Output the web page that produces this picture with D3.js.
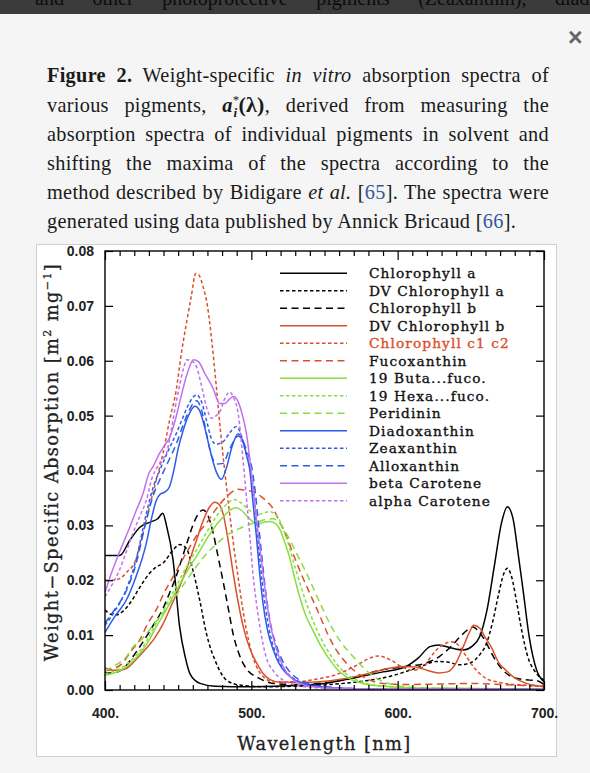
<!DOCTYPE html>
<html>
<head>
<meta charset="utf-8">
<script src="https://cdn.jsdelivr.net/npm/d3@7"></script>
<style>
html, body { margin: 0; padding: 0; }
body { width: 590px; height: 773px; background: #f5f5f5; position: relative; overflow: hidden; font-family: "Liberation Serif", serif; }
#topbar { position: absolute; left: 0; top: 0; width: 590px; height: 14px; background: #3b3b3b; overflow: hidden; }
#topbar div { position: absolute; left: 35px; top: -12px; width: 640px; font-size: 20px; line-height: 20px; color: #0c0c0c; text-align: justify; text-align-last: justify; }
#close { position: absolute; left: 568px; top: 25px; font: bold 25px/25px "Liberation Sans", sans-serif; color: #666; }
#caption { position: absolute; left: 47px; top: 61px; width: 502px; font-size: 20.3px; letter-spacing: 0.3px; line-height: 29.3px; color: #1a1a1a; }
#caption .l { text-align: justify; text-align-last: justify; height: 29.3px; white-space: normal; }
#caption .l.last { text-align-last: left; }
#caption a { color: #36589a; text-decoration: none; }
#chart { position: absolute; left: 0; top: 0; }
</style>
</head>
<body>
<div id="topbar"><div>and other photoprotective pigments (Zeaxanthin), diadinoxanthin</div></div>
<div id="close">×</div>
<div id="caption">
  <div class="l"><b>Figure 2.</b> Weight-specific <i>in vitro</i> absorption spectra of</div>
  <div class="l">various pigments, <b><i>a</i></b><span style="position:relative;top:-8px;font-size:13px;">*</span><span style="position:relative;top:5px;left:-6px;font-size:13px;margin-right:-5px;"><b><i>i</i></b></span><b style="font-size:22px;">(λ)</b>, derived from measuring the</div>
  <div class="l">absorption spectra of individual pigments in solvent and</div>
  <div class="l">shifting the maxima of the spectra according to the</div>
  <div class="l">method described by Bidigare <i>et al.</i> [<a>65</a>]. The spectra were</div>
  <div class="l last">generated using data published by Annick Bricaud [<a>66</a>].</div>
</div>
<div id="chart"></div>
<script>
// weight-specific absorption a*(lambda), [nm, m2 mg-1]
const chlA = [[400,0.0245],[410,0.0245],[417,0.0273],[424,0.0297],[431,0.0306],[436,0.0312],[439.5,0.0322],[442,0.0300],[446.5,0.0237],[451,0.0115],[455,0.0058],[458,0.0030],[465,0.0012],[475,0.0007],[500,0.0006],[530,0.0008],[550,0.0012],[570,0.0022],[590,0.0033],[605,0.0042],[614,0.0058],[622,0.0079],[628,0.0082],[636,0.0077],[645,0.0073],[651,0.0080],[656,0.0097],[661,0.0145],[666,0.0225],[671,0.0305],[675,0.0334],[679,0.0310],[682,0.0255],[685.7,0.0182],[690,0.0095],[695,0.0036],[700,0.0015]];
const dvChlA = [[400,0.0146],[404,0.0138],[408,0.0137],[412,0.0143],[417,0.0158],[424,0.0188],[430.5,0.0213],[435,0.0224],[439.6,0.0231],[446.5,0.0255],[451,0.0265],[455.6,0.0258],[460,0.0219],[464.7,0.0164],[469.3,0.0103],[476,0.0049],[483,0.0018],[492,0.0009],[510,0.0006],[540,0.0008],[570,0.0014],[595,0.0025],[615,0.0042],[626.5,0.0052],[634,0.0051],[642.4,0.0046],[650,0.0050],[656,0.0064],[660.7,0.0085],[665,0.0125],[669,0.0175],[672.5,0.0212],[675,0.0222],[678,0.0205],[681,0.0165],[685,0.0105],[689,0.0060],[694,0.0033],[700,0.0018]];
const chlB = [[400,0.0032],[405,0.0031],[412,0.0038],[421,0.0068],[427,0.0092],[433,0.0118],[439,0.0145],[444,0.0176],[449,0.0210],[453,0.0243],[456.5,0.0272],[460,0.0300],[464,0.0322],[467,0.0328],[470,0.0320],[474,0.0285],[477.5,0.0240],[481,0.0194],[484.5,0.0145],[487.5,0.0103],[491,0.0070],[494.3,0.0049],[498,0.0034],[503.5,0.0024],[515,0.0012],[530,0.0010],[550,0.0013],[570,0.0022],[588,0.0036],[606,0.0043],[618,0.0048],[628.5,0.0061],[636,0.0078],[643,0.0098],[648,0.0110],[651.5,0.0115],[655,0.0108],[660.7,0.0085],[666,0.0058],[672,0.0036],[678,0.0024],[684,0.0020],[690,0.0018],[695,0.0017],[700,0.0010]];
const dvChlB = [[400,0.0040],[405,0.0036],[410,0.0036],[416.7,0.0043],[422,0.0058],[428,0.0075],[434,0.0095],[439.6,0.0120],[445,0.0152],[451,0.0188],[457,0.0230],[462.5,0.0273],[467,0.0308],[471.6,0.0334],[475,0.0342],[478,0.0338],[480.8,0.0320],[484,0.0275],[487.6,0.0213],[491,0.0160],[494.5,0.0115],[499,0.0075],[503.7,0.0049],[508,0.0030],[512.8,0.0019],[520,0.0014],[540,0.0014],[560,0.0019],[580,0.0030],[595,0.0040],[604,0.0043],[612,0.0042],[620,0.0036],[628,0.0031],[634,0.0033],[640,0.0050],[645,0.0080],[649,0.0105],[652,0.0118],[656,0.0113],[660,0.0095],[664,0.0078],[669,0.0050],[674,0.0036],[680,0.0022],[688,0.0012],[700,0.0006]];
const chlC = [[400,0.0200],[405,0.0200],[410,0.0203],[415,0.0215],[421,0.0237],[425.5,0.0280],[430.4,0.0334],[435,0.0382],[439.6,0.0431],[444,0.0490],[448.7,0.0547],[452,0.0610],[455.6,0.0668],[459,0.0718],[462,0.0759],[464,0.0757],[467,0.0735],[470,0.0700],[473,0.0635],[476,0.0555],[479,0.0470],[482,0.0395],[485,0.0325],[488,0.0262],[491,0.0205],[494,0.0150],[497,0.0105],[500,0.0070],[504,0.0040],[509,0.0022],[515,0.0015],[530,0.0015],[545,0.0020],[560,0.0030],[572,0.0045],[580,0.0057],[587,0.0062],[595,0.0055],[603,0.0042],[610,0.0036],[617.4,0.0042],[622,0.0058],[626.5,0.0073],[632,0.0084],[636.8,0.0088],[641,0.0083],[647,0.0061],[651,0.0045],[656,0.0030],[661,0.0020],[667.5,0.0015],[676,0.0011],[686,0.0009],[700,0.0006]];
const fuco = [[400,0.0035],[405,0.0038],[412,0.0049],[417,0.0068],[423.7,0.0091],[429,0.0120],[435,0.0146],[440,0.0175],[446.5,0.0206],[452,0.0233],[458,0.0261],[463,0.0283],[469.3,0.0304],[476,0.0330],[483,0.0352],[491,0.0366],[496,0.0364],[501.4,0.0361],[507,0.0352],[512,0.0340],[515,0.0330],[519,0.0308],[524,0.0280],[529,0.0245],[535,0.0206],[541,0.0170],[547,0.0134],[552,0.0103],[558,0.0073],[564,0.0052],[570,0.0036],[575,0.0026],[581,0.0018],[590,0.0012],[605,0.0010],[630,0.0011],[650,0.0012],[670,0.0010],[700,0.0007]];
const buta = [[400,0.0027],[405,0.0030],[410,0.0035],[415,0.0043],[420,0.0055],[424,0.0067],[430,0.0090],[435,0.0115],[441,0.0142],[446.5,0.0170],[452,0.0197],[458,0.0225],[464,0.0250],[469,0.0273],[475,0.0297],[481,0.0316],[485,0.0327],[489,0.0332],[493,0.0328],[497,0.0317],[501,0.0307],[505,0.0303],[509,0.0306],[513,0.0307],[517,0.0302],[520,0.0290],[523,0.0268],[526,0.0243],[529.5,0.0205],[533,0.0170],[537,0.0137],[542,0.0109],[548,0.0078],[553.6,0.0055],[559,0.0037],[565,0.0024],[570,0.0017],[576,0.0012],[585,0.0008],[600,0.0005],[630,0.0003],[700,0.0002]];
const hexa = [[400,0.0030],[405,0.0033],[410,0.0039],[415,0.0047],[420,0.0060],[425,0.0075],[430,0.0097],[435,0.0122],[441,0.0150],[446.5,0.0178],[452,0.0206],[458,0.0235],[464,0.0262],[469,0.0285],[475,0.0312],[481,0.0333],[485,0.0343],[488,0.0347],[492,0.0343],[496,0.0334],[500,0.0325],[504,0.0320],[508,0.0322],[512,0.0325],[516,0.0321],[519,0.0311],[522,0.0292],[525.5,0.0265],[529,0.0232],[533,0.0197],[537,0.0163],[542,0.0127],[548,0.0092],[554,0.0064],[560,0.0042],[566,0.0027],[573,0.0017],[582,0.0010],[595,0.0006],[620,0.0003],[700,0.0002]];
const perid = [[400,0.0035],[405,0.0042],[410,0.0050],[415,0.0062],[419,0.0078],[425,0.0092],[430,0.0108],[435,0.0125],[440,0.0142],[445,0.0160],[450,0.0178],[455,0.0197],[460,0.0216],[465,0.0234],[470,0.0250],[475,0.0263],[480,0.0275],[485,0.0285],[490,0.0292],[495,0.0298],[500,0.0303],[505,0.0307],[510,0.0311],[515,0.0312],[519,0.0305],[523,0.0290],[527,0.0270],[532,0.0243],[537.7,0.0213],[545,0.0170],[553.6,0.0121],[561,0.0088],[569.6,0.0061],[575,0.0045],[581,0.0030],[588,0.0018],[595,0.0011],[605,0.0006],[630,0.0003],[700,0.0002]];
const diadino = [[400,0.0105],[407,0.0135],[414.6,0.0164],[421,0.0205],[428,0.0265],[432,0.0315],[435,0.0345],[437.4,0.0356],[441,0.0361],[444,0.0370],[447,0.0400],[450,0.0440],[453.4,0.0473],[457,0.0500],[461.5,0.0517],[464.5,0.0510],[468,0.0480],[472,0.0435],[476,0.0398],[479.6,0.0384],[483,0.0405],[487,0.0445],[491,0.0467],[494,0.0455],[497,0.0425],[499,0.0400],[501,0.0345],[503.5,0.0279],[506,0.0205],[508,0.0158],[511,0.0110],[515,0.0073],[519,0.0048],[524,0.0030],[530,0.0018],[537,0.0010],[550,0.0005],[580,0.0002],[700,0.0001]];
const zea = [[400,0.0118],[407,0.0145],[414,0.0180],[421,0.0235],[428.3,0.0322],[433,0.0370],[437.4,0.0400],[443,0.0435],[448.8,0.0468],[453,0.0495],[458,0.0525],[462.5,0.0538],[466,0.0525],[469.5,0.0490],[472.7,0.0458],[476,0.0448],[480.6,0.0452],[485,0.0468],[489.8,0.0480],[493,0.0465],[496,0.0435],[499,0.0405],[501,0.0375],[503,0.0320],[505,0.0260],[507.5,0.0195],[510,0.0145],[513,0.0100],[517,0.0065],[521,0.0043],[526,0.0027],[532,0.0016],[540,0.0009],[555,0.0004],[580,0.0002],[700,0.0001]];
const allo = [[400,0.0122],[407,0.0148],[414,0.0178],[421,0.0228],[428.3,0.0310],[433,0.0355],[437.4,0.0383],[443,0.0415],[448.8,0.0449],[453,0.0480],[458,0.0512],[462.5,0.0527],[466,0.0510],[469.5,0.0465],[472.7,0.0428],[476.5,0.0412],[480.6,0.0413],[485,0.0438],[491,0.0463],[494,0.0455],[497,0.0435],[500,0.0410],[502.5,0.0365],[505,0.0300],[507.5,0.0235],[510,0.0175],[513,0.0122],[517,0.0082],[521,0.0055],[526,0.0034],[532,0.0020],[540,0.0011],[555,0.0005],[580,0.0002],[700,0.0001]];
const betaCar = [[400,0.0178],[404,0.0210],[407.8,0.0237],[412,0.0265],[417,0.0297],[421,0.0325],[426,0.0358],[430,0.0395],[432.8,0.0407],[437,0.0430],[441,0.0447],[444.2,0.0460],[448,0.0492],[452,0.0535],[456,0.0575],[460.5,0.0602],[464,0.0598],[468,0.0578],[473.8,0.0550],[478.4,0.0522],[482,0.0522],[485,0.0530],[488,0.0535],[491,0.0525],[493.5,0.0505],[496.6,0.0468],[499,0.0420],[501.5,0.0360],[504,0.0300],[506.5,0.0245],[509,0.0190],[512,0.0135],[515,0.0095],[519,0.0060],[524,0.0032],[530,0.0016],[538,0.0008],[550,0.0004],[580,0.0002],[700,0.0001]];
const alphaCar = [[400,0.0170],[405,0.0193],[410,0.0219],[414,0.0248],[419,0.0285],[424,0.0318],[428.3,0.0346],[432,0.0385],[435,0.0403],[439.6,0.0422],[442,0.0431],[445,0.0470],[448,0.0515],[451,0.0555],[453.5,0.0585],[456,0.0602],[459,0.0600],[462.5,0.0589],[465.5,0.0560],[469.3,0.0516],[473,0.0495],[476,0.0500],[479,0.0510],[482,0.0532],[485.2,0.0543],[488,0.0532],[491,0.0504],[494.3,0.0420],[497,0.0340],[499,0.0279],[501,0.0215],[503.5,0.0158],[506.5,0.0105],[510,0.0061],[515,0.0035],[521.7,0.0018],[530,0.0009],[545,0.0004],[580,0.0002],[700,0.0001]];

const pigments = ["Chlorophyll a", "DV Chlorophyll a", "Chlorophyll b", "DV Chlorophyll b", "Chlorophyll c1 c2", "Fucoxanthin",
  "19 Buta...fuco.", "19 Hexa...fuco.", "Peridinin", "Diadoxanthin", "Zeaxanthin", "Alloxanthin", "beta Carotene", "alpha Carotene"];
const spectra = [chlA, dvChlA, chlB, dvChlB, chlC, fuco, buta, hexa, perid, diadino, zea, allo, betaCar, alphaCar];

const xMajor = [400, 500, 600, 700];
const xMinor = d3.range(410, 700, 10).filter(d => d % 100 != 0);
const yTicks = [0, 0.01, 0.02, 0.03, 0.04, 0.05, 0.06, 0.07, 0.08];

// every three pigments share a colour; within a group: solid, dotted, dashed
const groupColors = ["#000000", "#d9502c", "#88de40", "#2b5ce8", "#c070f0"];
const dashes = [null, "3.5,2.5", "7,4.5"];

const series = pigments.map((name, i) => ({ name: name, values: spectra[i], color: groupColors[Math.floor(i / 3)], dash: dashes[i % 3] }));

const plotLeft = 105, plotRight = 544, plotTop = 251, plotBottom = 690;

const x = d3.scaleLinear().domain([400, 700]).range([plotLeft, plotRight]);
const y = d3.scaleLinear().domain([0, 0.08]).range([plotBottom, plotTop]);

const svg = d3.select("#chart").append("svg")
  .attr("width", 590)
  .attr("height", 773);

// image box
svg.append("rect")
  .attr("x", 36.5).attr("y", 244.5)
  .attr("width", 520).attr("height", 512)
  .attr("fill", "#fff").attr("stroke", "#d0d0d0");

svg.append("clipPath").attr("id", "plotclip")
  .append("rect").attr("x", plotLeft).attr("y", plotTop).attr("width", plotRight - plotLeft).attr("height", plotBottom - plotTop);

const line = d3.line()
  .x(d => x(d[0]))
  .y(d => y(d[1]))
  .curve(d3.curveMonotoneX);

const curves = svg.append("g").attr("clip-path", "url(#plotclip)");
curves.selectAll("path")
  .data(series)
  .enter()
  .append("path")
  .attr("d", d => line(d.values))
  .attr("fill", "none")
  .attr("stroke", d => d.color)
  .attr("stroke-width", 1.5)
  .attr("stroke-dasharray", d => d.dash);

function styleAxis(g) {
  g.select(".domain").remove();
  g.selectAll(".tick line").attr("stroke", "#000").attr("stroke-width", 1.2);
  g.selectAll(".tick text")
    .attr("fill", "#222")
    .style("font-family", "'Liberation Sans', Arial, sans-serif")
    .style("font-weight", "bold")
    .style("font-size", "14px");
}

svg.append("g").attr("transform", "translate(0," + plotBottom + ")")
  .call(d3.axisBottom(x).tickValues(xMinor).tickSize(-5).tickFormat(""))
  .call(styleAxis);
svg.append("g").attr("transform", "translate(0," + plotBottom + ")")
  .call(d3.axisBottom(x).tickValues(xMajor).tickSize(-9).tickPadding(18).tickFormat(d => d + "."))
  .call(styleAxis);
svg.append("g").attr("transform", "translate(0," + plotTop + ")")
  .call(d3.axisTop(x).tickValues(xMinor).tickSize(-5).tickFormat(""))
  .call(styleAxis);
svg.append("g").attr("transform", "translate(0," + plotTop + ")")
  .call(d3.axisTop(x).tickValues(xMajor).tickSize(-9).tickFormat(""))
  .call(styleAxis);
svg.append("g").attr("transform", "translate(" + plotLeft + ",0)")
  .call(d3.axisLeft(y).tickValues(yTicks).tickSize(-8).tickPadding(11).tickFormat(d3.format(".2f")))
  .call(styleAxis);
svg.append("g").attr("transform", "translate(" + plotRight + ",0)")
  .call(d3.axisRight(y).tickValues(yTicks).tickSize(-8).tickFormat(""))
  .call(styleAxis);

svg.append("rect")
  .attr("x", plotLeft).attr("y", plotTop)
  .attr("width", plotRight - plotLeft).attr("height", plotBottom - plotTop)
  .attr("fill", "none").attr("stroke", "#000").attr("stroke-width", 1.4);

// legend
const legend = svg.append("g").attr("class", "legend");
const rows = legend.selectAll("g")
  .data(series)
  .enter()
  .append("g")
  .attr("transform", (d, i) => "translate(0," + (273.3 + i * 17.5) + ")");
rows.append("line")
  .attr("x1", 280).attr("x2", 347)
  .attr("stroke", d => d.color)
  .attr("stroke-width", 1.5)
  .attr("stroke-dasharray", d => d.dash);
rows.append("text")
  .attr("x", 369)
  .attr("dy", "0.36em")
  .attr("fill", (d, i) => i == 4 ? "#d9502c" : "#111")
  .attr("stroke", (d, i) => i == 4 ? "#d9502c" : "#111")
  .attr("stroke-width", 0.35)
  .style("font-family", "'DejaVu Serif', serif")
  .style("font-size", "13.7px")
  .style("letter-spacing", "1.1px")
  .text(d => d.name);

// axis titles
const titleStyle = t => t
  .attr("fill", "#222")
  .attr("stroke", "#222")
  .attr("stroke-width", 0.3)
  .style("font-family", "'DejaVu Serif', serif")
  .style("font-size", "17.8px")
  .style("letter-spacing", "1.4px");

svg.append("text")
  .attr("x", (plotLeft + plotRight) / 2)
  .attr("y", 750)
  .attr("text-anchor", "middle")
  .call(titleStyle)
  .text("Wavelength [nm]");

const yTitle = svg.append("text")
  .attr("transform", "translate(58,462) rotate(-90)")
  .attr("text-anchor", "middle")
  .call(titleStyle);
yTitle.append("tspan").text("Weight−Specific Absorption [m");
yTitle.append("tspan").attr("dy", -7).style("font-size", "11px").text("2");
yTitle.append("tspan").attr("dy", 7).text(" mg");
yTitle.append("tspan").attr("dy", -7).style("font-size", "11px").text("−1");
yTitle.append("tspan").attr("dy", 7).text("]");
</script>
</body>
</html>
